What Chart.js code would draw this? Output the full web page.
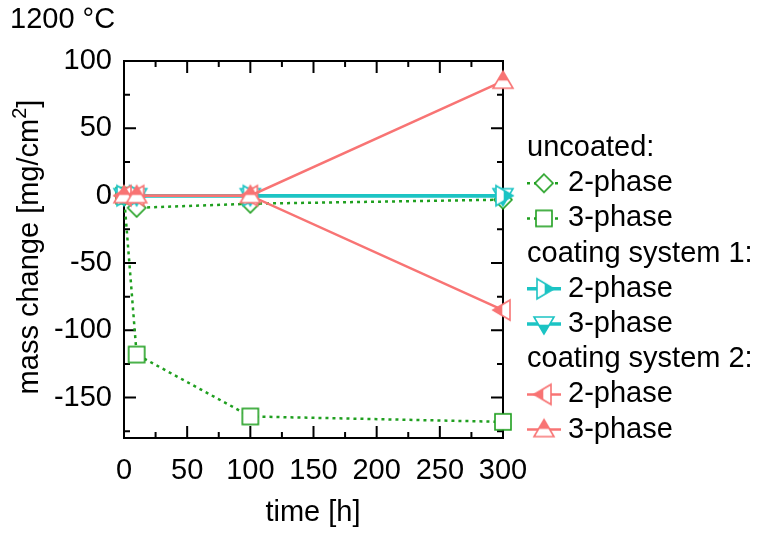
<!DOCTYPE html>
<html>
<head>
<meta charset="utf-8">
<script src="https://cdn.jsdelivr.net/npm/chart.js@4"></script>
<style>
  body { margin: 0; background: #fff; }
</style>
</head>
<body>
<canvas id="chart" width="757" height="535"></canvas>
<script>
// time points [h]
const times = [0, 10, 100, 300];

// mass change [mg/cm2]
const uncoated2Phase = [0, -9, -6, -3];
const uncoated3Phase = [0, -118, -164, -168];
const coat1TwoPhase = [0, 0, 0, 0];
const coat1ThreePhase = [0, 0, 0, 0];
const coat2TwoPhase = [0, 0, 0, -85];
const coat2ThreePhase = [0, 0, 0, 85];

const xTicks = [0, 50, 100, 150, 200, 250, 300];
const yTicks = [-150, -100, -50, 0, 50, 100];

const FONT = "'Liberation Sans', Arial, sans-serif";
const FSIZE = 29;
const green = "#1f9f1f";
const cyan = "#1cc4c4";
const red = "#f87474";

function makeMarker(kind, color) {
    const c = document.createElement("canvas");
    c.width = 26;
    c.height = 26;
    const g = c.getContext("2d");
    g.translate(13, 13);
    g.lineWidth = 1.6;
    g.strokeStyle = color;
    g.fillStyle = "#fff";
    g.lineJoin = "miter";
    if (kind === "diamond") {
        g.beginPath();
        g.moveTo(0, -9); g.lineTo(9, 0); g.lineTo(0, 9); g.lineTo(-9, 0);
        g.closePath();
        g.fill(); g.stroke();
    } else if (kind === "square") {
        g.fillRect(-8, -8, 16, 16);
        g.strokeRect(-8, -8, 16, 16);
    } else {
        const rot = { up: 0, right: Math.PI / 2, down: Math.PI, left: -Math.PI / 2 }[kind];
        g.rotate(rot);
        g.beginPath();
        g.moveTo(0, -10); g.lineTo(10, 7); g.lineTo(-10, 7);
        g.closePath();
        g.fill();
        // tip half filled
        g.fillStyle = color;
        g.beginPath();
        g.moveTo(0, -10); g.lineTo(5, -1.5); g.lineTo(-5, -1.5);
        g.closePath();
        g.fill();
        g.beginPath();
        g.moveTo(0, -10); g.lineTo(10, 7); g.lineTo(-10, 7);
        g.closePath();
        g.stroke();
        g.beginPath();
        g.moveTo(-5, -1.5); g.lineTo(5, -1.5);
        g.stroke();
    }
    return c;
}

const series = [
    { label: "2-phase", data: uncoated2Phase, color: green, width: 2.5, dash: [3, 4], marker: makeMarker("diamond", green), order: 3 },
    { label: "3-phase", data: uncoated3Phase, color: green, width: 2.5, dash: [3, 4], marker: makeMarker("square", green), order: 4 },
    { label: "2-phase", data: coat1TwoPhase, color: cyan, width: 3.5, dash: [], marker: makeMarker("right", cyan), order: 2 },
    { label: "3-phase", data: coat1ThreePhase, color: cyan, width: 3.5, dash: [], marker: makeMarker("down", cyan), order: 2 },
    { label: "2-phase", data: coat2TwoPhase, color: red, width: 2.5, dash: [], marker: makeMarker("left", red), order: 1 },
    { label: "3-phase", data: coat2ThreePhase, color: red, width: 2.5, dash: [], marker: makeMarker("up", red), order: 0 },
];

const legendRows = [
    { text: "uncoated:" },
    series[0], series[1],
    { text: "coating system 1:" },
    series[2], series[3],
    { text: "coating system 2:" },
    series[4], series[5],
];

// frame with inward ticks on all four sides
const framePlugin = {
    id: "frame",
    beforeDatasetsDraw(chart) {
        const { ctx, chartArea: a, scales } = chart;
        ctx.save();
        ctx.strokeStyle = "#000";
        ctx.lineWidth = 2;
        ctx.strokeRect(a.left, a.top, a.right - a.left, a.bottom - a.top);
        for (let v = 0; v <= 300; v += 25) {
            const x = scales.x.getPixelForValue(v);
            const len = v % 50 === 0 ? 12 : 6;
            ctx.beginPath();
            ctx.moveTo(x, a.bottom); ctx.lineTo(x, a.bottom - len);
            ctx.moveTo(x, a.top); ctx.lineTo(x, a.top + len);
            ctx.stroke();
        }
        for (let v = -175; v <= 100; v += 25) {
            const y = scales.y.getPixelForValue(v);
            const len = v % 50 === 0 ? 12 : 6;
            ctx.beginPath();
            ctx.moveTo(a.left, y); ctx.lineTo(a.left + len, y);
            ctx.moveTo(a.right, y); ctx.lineTo(a.right - len, y);
            ctx.stroke();
        }
        ctx.restore();
    },
};

const textPlugin = {
    id: "texts",
    afterDraw(chart) {
        const ctx = chart.ctx;
        const main = FSIZE + "px " + FONT;
        const small = "20px " + FONT;
        ctx.save();
        ctx.fillStyle = "#000";
        ctx.font = main;
        ctx.textBaseline = "middle";

        ctx.textAlign = "left";
        ctx.fillText("1200 °C", 10, 20);

        ctx.textAlign = "center";
        ctx.fillText("time [h]", 313, 513);

        // y title with superscript
        ctx.save();
        ctx.translate(30, 247);
        ctx.rotate(-Math.PI / 2);
        ctx.textAlign = "left";
        const p1 = "mass change [mg/cm", p2 = "2", p3 = "]";
        const w1 = ctx.measureText(p1).width;
        const w3 = ctx.measureText(p3).width;
        ctx.font = small;
        const w2 = ctx.measureText(p2).width;
        let x0 = -(w1 + w2 + w3) / 2;
        ctx.font = main;
        ctx.fillText(p1, x0, 0);
        ctx.font = small;
        ctx.fillText(p2, x0 + w1, -10);
        ctx.font = main;
        ctx.fillText(p3, x0 + w1 + w2, 0);
        ctx.restore();

        // legend
        ctx.textAlign = "left";
        legendRows.forEach(function (row, i) {
            const y = 148 + i * 35.2;
            if (!row.data) {
                ctx.fillText(row.text, 527, y);
                return;
            }
            ctx.save();
            ctx.strokeStyle = row.color;
            ctx.lineWidth = row.width;
            ctx.setLineDash(row.dash);
            ctx.beginPath();
            ctx.moveTo(527, y); ctx.lineTo(561, y);
            ctx.stroke();
            ctx.restore();
            ctx.drawImage(row.marker, 544 - 13, y - 13);
            ctx.fillText(row.label, 568, y);
        });
        ctx.restore();
    },
};

new Chart(document.getElementById("chart"), {
    type: "line",
    data: {
        datasets: series.map(function (s) {
            return {
                label: s.label,
                data: times.map(function (t, i) { return { x: t, y: s.data[i] }; }),
                borderColor: s.color,
                borderWidth: s.width,
                borderDash: s.dash,
                pointStyle: s.marker,
                pointRadius: 10,
                order: s.order,
                fill: false,
                tension: 0,
                clip: false,
            };
        }),
    },
    options: {
        responsive: false,
        animation: false,
        layout: { padding: { top: 61, right: 254, left: 0, bottom: 0 } },
        plugins: {
            legend: { display: false },
            tooltip: { enabled: false },
        },
        scales: {
            x: {
                type: "linear",
                min: 0,
                max: 300,
                grid: { display: false, drawTicks: false },
                border: { display: false },
                ticks: { color: "#000", font: { family: FONT, size: FSIZE }, padding: 16 },
                afterBuildTicks: function (s) { s.ticks = xTicks.map(function (v) { return { value: v }; }); },
                afterFit: function (s) { s.height = 97; },
            },
            y: {
                type: "linear",
                min: -180,
                max: 100,
                grid: { display: false, drawTicks: false },
                border: { display: false },
                ticks: { color: "#000", font: { family: FONT, size: FSIZE }, padding: 12 },
                afterBuildTicks: function (s) { s.ticks = yTicks.map(function (v) { return { value: v }; }); },
                afterFit: function (s) { s.width = 124; },
            },
        },
    },
    plugins: [framePlugin, textPlugin],
});
</script>
</body>
</html>
